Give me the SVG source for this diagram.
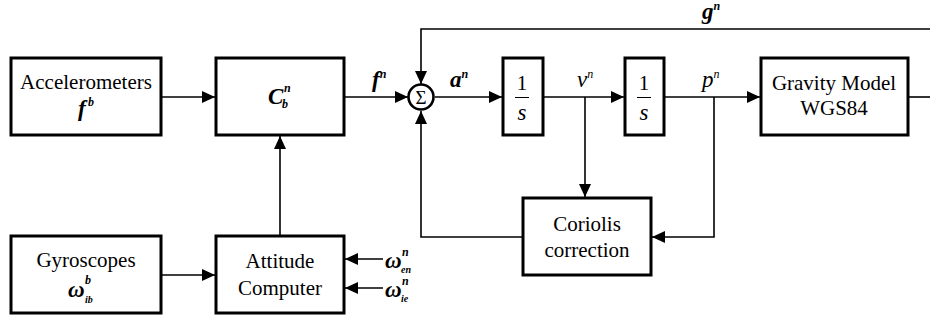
<svg xmlns="http://www.w3.org/2000/svg" width="930" height="320" viewBox="0 0 930 320">
<style>
.box{fill:#fff;stroke:#000;stroke-width:3}
.ln{fill:none;stroke:#000;stroke-width:1.6}
.t{font-size:21px;fill:#000;text-anchor:middle}
.m{font-style:italic;font-weight:bold;fill:#000}
.mb{font-size:23px}
.ms{font-size:12px}
</style>
<defs>
<marker id="ar" markerUnits="userSpaceOnUse" markerWidth="14" markerHeight="12" refX="13" refY="6" orient="auto">
<path d="M0,0 L13,6 L0,12 Z" fill="#000"/>
</marker>
</defs>
<rect width="930" height="320" fill="#fff"/>
<g id="connectors">
<line class="ln" x1="161" y1="97" x2="215" y2="97" marker-end="url(#ar)"/>
<line class="ln" x1="344" y1="97" x2="408" y2="97" marker-end="url(#ar)"/>
<line class="ln" x1="435" y1="97" x2="502" y2="97" marker-end="url(#ar)"/>
<line class="ln" x1="543" y1="97" x2="624" y2="97" marker-end="url(#ar)"/>
<line class="ln" x1="664" y1="97" x2="760" y2="97" marker-end="url(#ar)"/>
<line class="ln" x1="908" y1="97" x2="930" y2="97"/>
<polyline class="ln" points="930,29 421,29 421,84" marker-end="url(#ar)"/>
<line class="ln" x1="280" y1="236" x2="280" y2="136" marker-end="url(#ar)"/>
<line class="ln" x1="161" y1="275" x2="215" y2="275" marker-end="url(#ar)"/>
<line class="ln" x1="383" y1="259" x2="345" y2="259" marker-end="url(#ar)"/>
<line class="ln" x1="383" y1="288" x2="345" y2="288" marker-end="url(#ar)"/>
<line class="ln" x1="585" y1="97" x2="585" y2="197" marker-end="url(#ar)"/>
<polyline class="ln" points="714,97 714,237 652,237" marker-end="url(#ar)"/>
<polyline class="ln" points="523,237 421,237 421,111" marker-end="url(#ar)"/>
</g>
<g font-family="Liberation Serif, Times New Roman, serif">
<g id="accelerometers">
<rect class="box" x="11" y="58" width="150" height="77"/>
<text class="t" x="86" y="89">Accelerometers</text>
<text class="m mb" x="78" y="116">f</text>
<text class="m ms" x="88" y="106">b</text>
</g>
<g id="cbn">
<rect class="box" x="216" y="58" width="128" height="77"/>
<text class="m mb" x="268" y="104">C</text>
<text class="m ms" x="284" y="92">n</text>
<text class="m ms" x="282" y="108">b</text>
</g>
<g id="sum">
<circle cx="421" cy="97" r="12.5" fill="#fff" stroke="#000" stroke-width="2.6"/>
<text class="t" x="421" y="104" style="font-size:19px">Σ</text>
</g>
<g id="int1">
<rect class="box" x="503" y="58" width="40" height="77"/>
<text class="t" x="522" y="90">1</text>
<line x1="515" y1="97.5" x2="529" y2="97.5" stroke="#000" stroke-width="1"/>
<text class="m mb" x="522" y="120" text-anchor="middle" style="font-weight:normal">s</text>
</g>
<g id="int2">
<rect class="box" x="625" y="58" width="39" height="77"/>
<text class="t" x="644" y="90">1</text>
<line x1="637" y1="97.5" x2="651" y2="97.5" stroke="#000" stroke-width="1"/>
<text class="m mb" x="644" y="120" text-anchor="middle" style="font-weight:normal">s</text>
</g>
<g id="gravity">
<rect class="box" x="761" y="58" width="147" height="77"/>
<text class="t" x="834" y="90">Gravity Model</text>
<text class="t" x="834" y="115">WGS84</text>
</g>
<g id="gyroscopes">
<rect class="box" x="11" y="236" width="150" height="77"/>
<text class="t" x="86" y="267">Gyroscopes</text>
<text class="m mb" x="68" y="297">ω</text>
<text class="m ms" x="85" y="284">b</text>
<text class="m ms" x="85" y="303" style="font-size:10px">ib</text>
</g>
<g id="attitude">
<rect class="box" x="216" y="236" width="128" height="77"/>
<text class="t" x="280" y="268">Attitude</text>
<text class="t" x="280" y="295">Computer</text>
</g>
<g id="coriolis">
<rect class="box" x="523" y="198" width="128" height="77"/>
<text class="t" x="587" y="231">Coriolis</text>
<text class="t" x="587" y="257">correction</text>
</g>
<g id="labels">
<text class="m mb" x="372" y="87">f<tspan class="ms" dy="-9">n</tspan></text>
<text class="m mb" x="450" y="87">a<tspan class="ms" dy="-9">n</tspan></text>
<text class="m mb" x="577" y="87" style="font-weight:normal">v<tspan class="ms" dy="-9">n</tspan></text>
<text class="m mb" x="702" y="87" style="font-weight:normal">p<tspan class="ms" dy="-9">n</tspan></text>
<text class="m mb" x="702" y="19">g<tspan class="ms" dy="-9">n</tspan></text>
<text class="m mb" x="385" y="268">ω</text>
<text class="m ms" x="402" y="256">n</text>
<text class="m ms" x="401" y="273" style="font-size:10px">en</text>
<text class="m mb" x="385" y="297">ω</text>
<text class="m ms" x="402" y="285">n</text>
<text class="m ms" x="401" y="302" style="font-size:10px">ie</text>
</g>
</g>
</svg>
